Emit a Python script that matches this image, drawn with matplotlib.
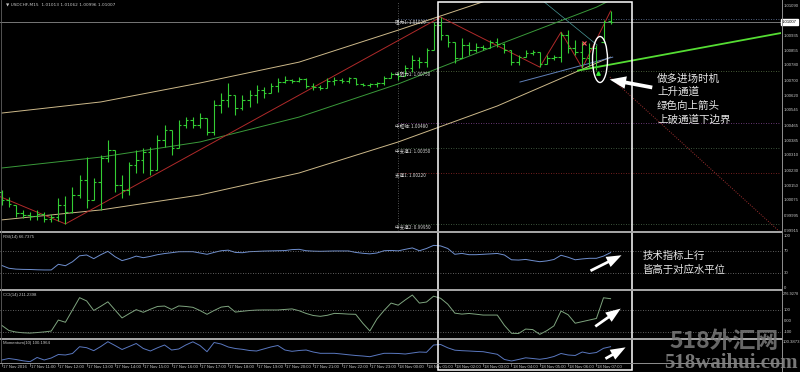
import matplotlib
matplotlib.use('Agg')
import matplotlib.pyplot as plt
import matplotlib.transforms as mtransforms
from matplotlib.patches import Rectangle, Ellipse, FancyArrowPatch
from matplotlib.lines import Line2D
import numpy as np

plt.rcParams['font.family'] = ['Liberation Sans', 'Noto Sans CJK SC', 'DejaVu Sans']

# ---------------- data ----------------
opens = [1.00119, 1.00077, 1.00051, 1.00009, 0.99999, 0.99993, 1.00004, 0.99978, 0.99988, 1.00051,
         1.00014, 1.00103, 1.00181, 1.00077, 1.00171, 1.00296, 1.00338, 1.00155, 1.00129, 1.00260,
         1.00286, 1.00328, 1.00234, 1.00390, 1.00442, 1.00348, 1.00468, 1.00495, 1.00468, 1.00505,
         1.00432, 1.00573, 1.00599, 1.00625, 1.00557, 1.00599, 1.00625, 1.00651, 1.00636, 1.00672,
         1.00693, 1.00703, 1.00698, 1.00709, 1.00672, 1.00667, 1.00662, 1.00698, 1.00703, 1.00698,
         1.00714, 1.00683, 1.00677, 1.00683, 1.00688, 1.00714, 1.00735, 1.00724, 1.00766, 1.00808,
         1.00797, 1.00860, 1.00990, 1.00938, 1.00902, 1.00818, 1.00886, 1.00860, 1.00876, 1.00870,
         1.00902, 1.00891, 1.00860, 1.00797, 1.00823, 1.00844, 1.00850, 1.00787, 1.00818, 1.00823,
         1.00938, 1.00870, 1.00850, 1.00818, 1.00870, 1.00902, 1.01013]
highs = [1.00129, 1.00093, 1.00051, 1.00025, 1.00014, 1.00025, 1.00014, 1.00004, 1.00087, 1.00098,
         1.00145, 1.00207, 1.00301, 1.00192, 1.00312, 1.00390, 1.00338, 1.00207, 1.00275, 1.00338,
         1.00348, 1.00354, 1.00416, 1.00468, 1.00442, 1.00495, 1.00510, 1.00510, 1.00531, 1.00505,
         1.00599, 1.00636, 1.00688, 1.00625, 1.00625, 1.00651, 1.00677, 1.00667, 1.00688, 1.00714,
         1.00724, 1.00709, 1.00719, 1.00714, 1.00688, 1.00677, 1.00714, 1.00719, 1.00714, 1.00719,
         1.00714, 1.00688, 1.00688, 1.00693, 1.00724, 1.00745, 1.00745, 1.00782, 1.00834, 1.00823,
         1.00870, 1.01006, 1.01032, 1.00938, 1.00902, 1.00923, 1.00902, 1.00897, 1.00886, 1.00912,
         1.00923, 1.00897, 1.00860, 1.00834, 1.00860, 1.00860, 1.00850, 1.00834, 1.00834, 1.00954,
         1.00964, 1.00912, 1.00902, 1.00897, 1.00886, 1.01017, 1.01062]
lows = [1.00051, 1.00040, 0.99988, 0.99983, 0.99973, 0.99973, 0.99962, 0.99962, 0.99967, 0.99952,
        1.00009, 1.00087, 1.00035, 1.00077, 1.00025, 1.00275, 1.00119, 1.00087, 1.00103, 1.00218,
        1.00218, 1.00207, 1.00234, 1.00354, 1.00312, 1.00348, 1.00453, 1.00453, 1.00453, 1.00416,
        1.00416, 1.00531, 1.00562, 1.00521, 1.00547, 1.00562, 1.00583, 1.00609, 1.00636, 1.00641,
        1.00688, 1.00688, 1.00693, 1.00662, 1.00651, 1.00651, 1.00662, 1.00677, 1.00688, 1.00688,
        1.00677, 1.00672, 1.00667, 1.00667, 1.00677, 1.00714, 1.00703, 1.00724, 1.00745, 1.00766,
        1.00771, 1.00860, 1.00912, 1.00876, 1.00792, 1.00818, 1.00834, 1.00850, 1.00860, 1.00870,
        1.00876, 1.00844, 1.00782, 1.00782, 1.00823, 1.00834, 1.00771, 1.00787, 1.00808, 1.00797,
        1.00844, 1.00834, 1.00766, 1.00771, 1.00756, 1.00897, 1.00996]
closes = [1.00077, 1.00056, 1.00009, 0.99999, 0.99993, 1.00004, 0.99978, 0.99988, 1.00051, 1.00014,
          1.00103, 1.00181, 1.00077, 1.00171, 1.00296, 1.00338, 1.00155, 1.00129, 1.00260, 1.00286,
          1.00328, 1.00234, 1.00390, 1.00442, 1.00348, 1.00468, 1.00495, 1.00468, 1.00505, 1.00432,
          1.00573, 1.00599, 1.00625, 1.00557, 1.00599, 1.00625, 1.00651, 1.00636, 1.00672, 1.00693,
          1.00703, 1.00698, 1.00709, 1.00672, 1.00667, 1.00662, 1.00698, 1.00703, 1.00698, 1.00714,
          1.00683, 1.00677, 1.00683, 1.00688, 1.00714, 1.00735, 1.00724, 1.00766, 1.00808, 1.00797,
          1.00860, 1.00990, 1.00938, 1.00902, 1.00818, 1.00886, 1.00860, 1.00876, 1.00870, 1.00902,
          1.00891, 1.00860, 1.00797, 1.00823, 1.00844, 1.00850, 1.00787, 1.00818, 1.00823, 1.00938,
          1.00870, 1.00850, 1.00818, 1.00870, 1.00776, 1.01006, 1.01007]

rsi = [44, 39, 37.5, 37, 36.8, 36.3, 36, 36, 46, 43.5,
       50.5, 61, 62.5, 56, 63, 69, 59.5, 52.5, 56, 60.5,
       57.7, 60, 63, 65, 66.5, 68.2, 68.3, 68.3, 66, 63.7,
       67, 70, 71, 67, 66.5, 68.3, 68.8, 69.4, 69.7, 70,
       70.3, 72, 72.5, 70, 69.3, 69, 69.3, 69.6, 69.6, 69.6,
       67, 65.5, 64.5, 66, 70, 70.5, 69.8, 72.5, 75, 70,
       74, 79.5, 78.5, 74, 63.7, 65.3, 63, 63, 63.7, 64.4,
       65.2, 62.5, 54, 53.5, 54.6, 52.5, 50.6, 52, 54.5, 62,
       58.5, 54, 55.5, 56.6, 56.6, 60.5, 66.7375]
cci = [-40, -88, -103, -110, -113, -108, -102, -94, 10, -11,
       105, 221, 190, 100, 140, 182, 105, 30, 70, 108,
       83, 112, 138, 142, 110, 143, 138, 130, 100, 64,
       100, 132, 140, 85, 93, 100, 104, 105, 105, 105,
       110, 115, 98, 72, 53, 45, 55, 73, 70, 66,
       64, -20, -93, 20, 100, 170, 150, 200, 246, 170,
       180, 235, 215, 160, 75, 66, 72, 65, 57, 57,
       57, -40, -115, -117, -75, -80, -125, -90, -45, 95,
       60, -20, -5, 10, 25, 220, 211.2398]
momentum = [99.817, 99.860, 99.832, 99.795, 99.769, 99.889, 99.817, 99.874, 99.974, 99.960,
            100.003, 100.196, 100.168, 100.083, 100.202, 100.339, 100.231, 100.117, 100.202, 100.288,
            100.145, 100.074, 100.165, 100.245, 100.102, 100.131, 100.245, 100.336, 100.231, 100.054,
            100.316, 100.273, 100.188, 100.145, 100.122, 100.088, 100.074, 100.131, 100.188, 100.231,
            100.102, 100.065, 100.088, 100.102, 100.045, 100.008, 100.008, 100.008, 99.988, 99.966,
            99.946, 99.931, 99.911, 99.960, 100.008, 100.008, 100.003, 99.988, 100.017, 100.045,
            100.037, 100.245, 100.259, 100.165, 100.097, 100.083, 100.074, 100.062, 100.054, 100.017,
            99.980, 99.832, 99.789, 99.832, 99.880, 99.860, 99.837, 99.866, 99.917, 100.003,
            99.960, 99.946, 100.045, 100.003, 100.031, 100.151, 100.1964]

time_labels = ['17 Nov 2016', '17 Nov 11:00', '17 Nov 12:00', '17 Nov 13:00', '17 Nov 14:00',
               '17 Nov 15:00', '17 Nov 16:00', '17 Nov 17:00', '17 Nov 18:00', '17 Nov 19:00',
               '17 Nov 20:00', '17 Nov 21:00', '17 Nov 22:00', '17 Nov 23:00', '18 Nov 00:00',
               '18 Nov 01:00', '18 Nov 02:00', '18 Nov 03:00', '18 Nov 04:00', '18 Nov 05:00',
               '18 Nov 06:00', '18 Nov 07:00']
time_label_bars = [0, 4, 8, 12, 16, 20, 24, 28, 32, 36, 40, 44, 48, 52, 56, 60, 64, 68, 72, 76, 80, 84]

price_ticks = [1.01090, 1.00935, 1.00855, 1.00780, 1.00700, 1.00620, 1.00545, 1.00465,
               1.00385, 1.00310, 1.00230, 1.00150, 1.00075, 0.99995, 0.99915]
current_price = 1.01007

level_names = ['阻力1', '中阻力1', '中枢轴', '中支撑1', '支撑1', '中支撑2']
level_values = [1.01020, 1.00750, 1.00480, 1.00350, 1.00220, 0.99950]
level_colors = ['#6a7fa8', '#5f7a4a', '#8a4a9a', '#4f6f4f', '#9a2a2a', '#4f6f4f']

# regression channel (bar index, price)
chan_x = [0, 14, 28, 42, 56, 70, 84, 86]
chan_mid = [1.00244, 1.00301, 1.00380, 1.00510, 1.00683, 1.00886, 1.01084, 1.01121]
chan_up = [1.00531, 1.00589, 1.00688, 1.00797, 1.00964, 1.01137, 1.01319, 1.01345]
chan_low = [0.99973, 1.00025, 1.00103, 1.00218, 1.00380, 1.00568, 1.00792, 1.00823]

zz_x = [-3, 9, 62, 76, 79, 82, 86]
zz_y = [1.00137, 0.99952, 1.01032, 1.00771, 1.00954, 1.00766, 1.01064]

rsi_levels = [70, 30]
cci_levels = [100, -100]

# ---------------- figure ----------------
W, H = 800, 372
fig = plt.figure(figsize=(8, 3.72), dpi=100, facecolor='black')

def rect(x0, y0, x1, y1):
    return [x0 / W, 1 - y1 / H, (x1 - x0) / W, (y1 - y0) / H]

XLIM = (-0.24, 110.07)
GREEN = '#33cc33'
TXT = '#c8c8c8'
FS = 3.1

ax = fig.add_axes(rect(0, 2, 781, 231))
ax_rsi = fig.add_axes(rect(0, 233.5, 781, 289.5))
ax_cci = fig.add_axes(rect(0, 291.5, 781, 337.5))
ax_mom = fig.add_axes(rect(0, 339.5, 781, 362))
for a in (ax, ax_rsi, ax_cci, ax_mom):
    a.set_facecolor('black')
    a.set_xlim(*XLIM)
    a.set_axis_off()
ax.set_ylim(0.99915, 1.01111)
ax_rsi.set_ylim(1.4, 100.5)
ax_cci.set_ylim(-154.7, 279.2)
ax_mom.set_ylim(99.760, 100.402)

idx = np.arange(len(opens))

# main chart lines
ax.axhline(current_price, color='#8a8a8a', lw=0.6)
ax.axvline(56, color='#707070', lw=0.6, ls=(0, (1, 2)))
for name, val, col in zip(level_names, level_values, level_colors):
    ax.hlines(val, 56, XLIM[1], colors=col, lw=0.6, linestyles=(0, (1, 2)))
    ax.text(55.5, val, f'{name}: {val:.5f}', fontsize=3.3, color='#d8d8d8',
            va='top', ha='left', family=['Noto Sans CJK SC', 'DejaVu Sans'])

ax.plot(chan_x, chan_up, color='#cdb98a', lw=0.7)
ax.plot(chan_x, chan_low, color='#cdb98a', lw=0.7)
ax.plot(chan_x, chan_mid, color='#3a9a3a', lw=0.7)
ax.plot(zz_x, zz_y, color='#b02a2a', lw=0.7)

ax.plot([73.2, 86.3], [1.00693, 1.00823], color='#6080b8', lw=0.7)
ax.plot([76.3, 84.1], [1.01121, 1.00886], color='#4a9a9a', lw=0.5)
ax.plot([81.4, 110.07], [1.00753, 1.00949], color='#55dd33', lw=1.3)
ax.plot([85.9, 110.07], [1.00719, 0.99905], color='#a03030', lw=0.7, ls=(0, (1, 1.5)))

# OHLC bars
ax.vlines(idx, lows, highs, colors=GREEN, lw=0.8)
ax.hlines(opens, idx - 0.38, idx, colors=GREEN, lw=0.8)
ax.hlines(closes, idx, idx + 0.38, colors=GREEN, lw=0.8)

ax.plot([82.2], [1.00897], marker='x', color='#ff6060', ms=2.5, mew=0.8)
ax.plot([84.2], [1.00740], marker='^', color='#33ee33', ms=2.5)

# price scale
bt = mtransforms.blended_transform_factory(fig.transFigure, ax.transData)
for p in price_ticks:
    ax.text(784 / W, p, f'{p:.5f}', transform=bt, fontsize=FS, color=TXT,
            va='center', ha='left', clip_on=False)
ax.text(782 / W, current_price, f'{current_price:.5f}', transform=bt, fontsize=FS,
        color='black', va='center', ha='left', clip_on=False,
        bbox=dict(boxstyle='square,pad=0.25', fc='white', ec='white'))
fig.text(6 / W, 1 - 5 / H, '▼ USDCHF,M15  1.01013 1.01062 1.00996 1.01007',
         fontsize=FS, color=TXT, va='center', ha='left',
         family=['DejaVu Sans'])

# RSI
ax_rsi.plot(idx, rsi, color='#6f8fcf', lw=0.7)
for lv in rsi_levels:
    ax_rsi.axhline(lv, color='#808080', lw=0.6, ls=(0, (1, 2)))
bt = mtransforms.blended_transform_factory(fig.transFigure, ax_rsi.transData)
for v, va in ((100, 'top'), (70, 'center'), (30, 'center'), (0, 'bottom')):
    ax_rsi.text(784 / W, v, f'{v}', transform=bt, fontsize=FS, color=TXT, va=va,
                ha='left', clip_on=False)
fig.text(3 / W, 1 - 237 / H, 'RSI(14) 66.7375', fontsize=FS, color=TXT, va='center')

# CCI
ax_cci.plot(idx, cci, color='#7fa57f', lw=0.7)
for lv in cci_levels:
    ax_cci.axhline(lv, color='#808080', lw=0.6, ls=(0, (1, 2)))
bt = mtransforms.blended_transform_factory(fig.transFigure, ax_cci.transData)
ax_cci.text(782.5 / W, 276.9278, '276.9278', transform=bt, fontsize=2.8, color=TXT, va='top', ha='left', clip_on=False)
for v, s in ((100, '100'), (0, '0.00'), (-100, '-100')):
    ax_cci.text(784 / W, v, s, transform=bt, fontsize=FS, color=TXT, va='center', ha='left', clip_on=False)
fig.text(3 / W, 1 - 295 / H, 'CCI(14) 211.2398', fontsize=FS, color=TXT, va='center')

# Momentum
ax_mom.plot(idx, momentum, color='#5a78c0', lw=0.7)
bt = mtransforms.blended_transform_factory(fig.transFigure, ax_mom.transData)
ax_mom.text(783 / W, 100.3873, '100.3873', transform=bt, fontsize=FS, color=TXT, va='top', ha='left', clip_on=False)
fig.text(3 / W, 1 - 343 / H, 'Momentum(10) 100.1964', fontsize=FS, color=TXT, va='center')

# time axis
bt = mtransforms.blended_transform_factory(ax_mom.transData, fig.transFigure)
for b, lab in zip(time_label_bars, time_labels):
    ax_mom.plot([b, b], [1 - 362.5 / H, 1 - 366 / H], transform=bt, color='#909090', lw=0.5, clip_on=False)
    ax_mom.text(b + 0.15, 1 - 367.5 / H, lab, transform=bt, fontsize=FS, color=TXT,
                va='center', ha='left', clip_on=False)

# frame / separators
for yy in (232.3, 290.3, 338.5):
    fig.add_artist(Line2D([0, 781.5 / W], [1 - yy / H] * 2, transform=fig.transFigure,
                          color='#a8a8a8', lw=1.4))
fig.add_artist(Line2D([0, 781.5 / W], [1 - 362.5 / H] * 2, transform=fig.transFigure,
                      color='#909090', lw=0.7))
fig.add_artist(Line2D([781.5 / W] * 2, [1 - 372 / H, 1], transform=fig.transFigure,
                      color='#909090', lw=0.7))
fig.add_artist(Line2D([0.6 / W] * 2, [1 - 362 / H, 1], transform=fig.transFigure,
                      color='#606060', lw=0.6))

# annotations: box, ellipse, arrows, text
fig.add_artist(Rectangle((438 / W, 1 - 370 / H), (632 - 438) / W, (370 - 2) / H,
                         transform=fig.transFigure, fill=False, ec='white', lw=1.1))
fig.add_artist(Ellipse((600 / W, 1 - 59.5 / H), 15 / W, 46 / H, transform=fig.transFigure,
                       fill=False, ec='white', lw=1.0))

def farrow(x0, y0, x1, y1, hl=1.2, hw=0.9, tw=0.22):
    fig.add_artist(FancyArrowPatch((x0 / W, 1 - y0 / H), (x1 / W, 1 - y1 / H),
                                   transform=fig.transFigure,
                                   arrowstyle=f'simple,head_length={hl},head_width={hw},tail_width={tw}',
                                   mutation_scale=9, color='white', lw=0))

farrow(655, 88, 607, 79, hl=1.3, hw=1.0, tw=0.3)
farrow(588, 272, 624, 254)
farrow(593, 328, 623, 307)
farrow(603, 360, 628, 346)

CJK = ['Noto Sans CJK SC', 'DejaVu Sans']
for txt, yy in (('做多进场时机', 79), ('上升通道', 92), ('绿色向上箭头', 106), ('上破通道下边界', 120)):
    fig.text(657 / W, 1 - yy / H, txt, fontsize=7.6, color='#e6e6e6', va='center', ha='left', family=CJK)
for txt, yy in (('技术指标上行', 256), ('皆高于对应水平位', 270)):
    fig.text(643 / W, 1 - yy / H, txt, fontsize=7.5, color='#e6e6e6', va='center', ha='left', family=CJK)

# watermark
fig.text(669 / W, 1 - 341 / H, '518外汇网', fontsize=16.5, color='#7a7a7a', alpha=0.85,
         va='center', ha='left', family=CJK, weight='bold')
fig.text(664 / W, 1 - 363 / H, '518waihui.com', fontsize=15, color='#858585', alpha=0.9,
         va='center', ha='left', family=['Liberation Serif'], weight='bold')

fig.savefig('out.png', dpi=100, facecolor='black')
